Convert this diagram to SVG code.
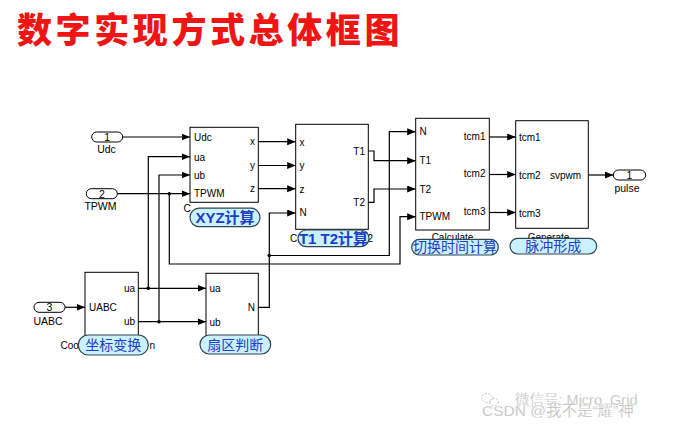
<svg xmlns="http://www.w3.org/2000/svg" width="685" height="430" viewBox="0 0 685 430">
<defs>
<marker id="arr" markerUnits="userSpaceOnUse" markerWidth="9" markerHeight="8" refX="8.5" refY="3.5" orient="auto">
<path d="M0,0 L8.5,3.5 L0,7 z" fill="#000"/>
</marker>
<style>
.blk{fill:#fff;stroke:#000;stroke-width:1}
.port{fill:#fff;stroke:#000;stroke-width:1}
.w{fill:none;stroke:#000;stroke-width:1.2}
.a{marker-end:url(#arr)}
.t{font-family:"Liberation Sans",Arial,sans-serif;font-size:10px;fill:#000}
.pl{font-family:"Liberation Sans",Arial,sans-serif;font-size:10.5px;fill:#000;text-anchor:middle}
.r{text-anchor:end}
.m{text-anchor:middle}
.bub{fill:#c9f1ff;stroke:#2e4650;stroke-width:1.2}
.bt{font-family:"Liberation Sans","Noto Sans CJK SC",sans-serif;font-size:14px;fill:#1f3cc4;text-anchor:middle}
.bb{font-weight:bold;font-size:15px}
.dot{fill:#000}
.wm{font-family:"Liberation Sans","Noto Sans CJK SC",sans-serif;fill:#b4b4b4;stroke:#fff;stroke-width:0.3}
</style>
</defs>
<rect width="685" height="430" fill="#fff"/>

<text x="17" y="43" font-family="'Noto Sans CJK SC',sans-serif" font-weight="900" font-size="35" letter-spacing="3.6" fill="#f01414">数字实现方式总体框图</text>

<g id="connectors">
<path class="w a" d="M122.7,137 H190"/>
<path class="w a" d="M117.3,193.7 H190"/>
<path class="w a" d="M169.3,193.7 V264 H400 V216.7 H415.7"/>
<path class="w a" d="M138.3,288.3 H206"/>
<path class="w a" d="M148.3,288.3 V156.7 H190"/>
<path class="w a" d="M138.3,321.7 H206"/>
<path class="w a" d="M159,321.7 V175 H190"/>
<path class="w a" d="M65,307.3 H85"/>
<path class="w a" d="M258.3,141.7 H295.7"/>
<path class="w a" d="M258.3,165.5 H295.7"/>
<path class="w a" d="M258.3,188.7 H295.7"/>
<path class="w a" d="M258.3,307.3 H269.3 V213 H295.7"/>
<path class="w a" d="M269.3,255.5 H389.3 V131.7 H415.7"/>
<path class="w a" d="M368.3,151 H374 V160.7 H415.7"/>
<path class="w a" d="M368.3,202.3 H374 V189 H415.7"/>
<path class="w a" d="M489.3,137 H515.7"/>
<path class="w a" d="M489.3,174.5 H515.7"/>
<path class="w a" d="M489.3,212.5 H515.7"/>
<path class="w a" d="M588.3,175 H613.3"/>
<circle class="dot" cx="169.3" cy="193.7" r="1.8"/>
<circle class="dot" cx="148.3" cy="288.3" r="1.8"/>
<circle class="dot" cx="159" cy="321.7" r="1.8"/>
<circle class="dot" cx="269.3" cy="255.5" r="1.8"/>
</g>

<g id="in1">
<rect class="port" x="91.7" y="132" width="31" height="10" rx="5"/>
<text class="pl" x="107.2" y="140.8">1</text>
<text class="pl" x="106.5" y="153">Udc</text>
</g>
<g id="in2">
<rect class="port" x="86.3" y="188.7" width="31" height="10" rx="5"/>
<text class="pl" x="101.8" y="197.5">2</text>
<text class="pl" x="100.5" y="210">TPWM</text>
</g>
<g id="in3">
<rect class="port" x="34" y="302.3" width="31" height="10" rx="5"/>
<text class="pl" x="49.5" y="311">3</text>
<text class="pl" x="48" y="324.5">UABC</text>
</g>
<g id="out1">
<rect class="port" x="613.3" y="170" width="32.4" height="10" rx="5"/>
<text class="pl" x="629.5" y="178.8">1</text>
<text class="pl" x="627" y="192">pulse</text>
</g>

<g id="xyz">
<rect class="blk" x="190" y="127.3" width="68.3" height="75"/>
<text class="t" x="194" y="140.5">Udc</text>
<text class="t" x="194" y="160.5">ua</text>
<text class="t" x="194" y="178.7">ub</text>
<text class="t" x="194" y="197.4">TPWM</text>
<text class="t r" x="255" y="145.4">x</text>
<text class="t r" x="255" y="169.3">y</text>
<text class="t r" x="255" y="192">z</text>
<text class="t" x="183.5" y="212">C</text>
<rect class="bub" x="190" y="208.2" width="70" height="18.5" rx="9.2"/>
<text class="bt bb" x="225" y="222.6">XYZ计算</text>
</g>

<g id="t1t2">
<rect class="blk" x="295.7" y="124.3" width="72.6" height="105"/>
<text class="t" x="299.5" y="146">x</text>
<text class="t" x="299.5" y="168.7">y</text>
<text class="t" x="299.5" y="192.7">z</text>
<text class="t" x="299.5" y="216.4">N</text>
<text class="t r" x="365" y="154.7">T1</text>
<text class="t r" x="365" y="206">T2</text>
<text class="t" x="290" y="242">C</text>
<text class="t" x="367.5" y="242">2</text>
<rect class="bub" x="298" y="230" width="71" height="16.7" rx="8.3"/>
<text class="bt bb" x="333.5" y="243.5">T1 T2计算</text>
</g>

<g id="calc">
<rect class="blk" x="415.7" y="118.3" width="73.6" height="111.7"/>
<text class="t" x="419.5" y="135.4">N</text>
<text class="t" x="419.5" y="164.4">T1</text>
<text class="t" x="419.5" y="192.7">T2</text>
<text class="t" x="419.5" y="220.4">TPWM</text>
<text class="t r" x="485.5" y="140.4">tcm1</text>
<text class="t r" x="485.5" y="177">tcm2</text>
<text class="t r" x="485.5" y="215.4">tcm3</text>
<text class="t m" x="452.5" y="241">Calculate</text>
<rect class="bub" x="411.7" y="239.3" width="86.6" height="15.7" rx="7.8"/>
<text class="bt" x="455" y="252.3">切换时间计算</text>
</g>

<g id="gen">
<rect class="blk" x="515.7" y="120.7" width="72.6" height="107.6"/>
<text class="t" x="519" y="140.7">tcm1</text>
<text class="t" x="519" y="178.5">tcm2</text>
<text class="t" x="519" y="216.7">tcm3</text>
<text class="t r" x="581" y="178.5">svpwm</text>
<text class="t m" x="548.5" y="240.5">Generate</text>
<rect class="bub" x="510" y="238.3" width="86.7" height="15.7" rx="7.8"/>
<text class="bt" x="553.3" y="251.3">脉冲形成</text>
</g>

<g id="coord">
<rect class="blk" x="85" y="272.3" width="53.3" height="66"/>
<text class="t" x="89" y="311">UABC</text>
<text class="t r" x="135" y="292">ua</text>
<text class="t r" x="135" y="325.4">ub</text>
<text class="t" x="60.5" y="349">Coo</text>
<text class="t" x="149.5" y="349">n</text>
<rect class="bub" x="78.3" y="335" width="70" height="20" rx="10"/>
<text class="bt" x="113.3" y="350">坐标变换</text>
</g>

<g id="sector">
<rect class="blk" x="206" y="273.3" width="52.3" height="65"/>
<text class="t" x="209.5" y="292">ua</text>
<text class="t" x="209.5" y="326.4">ub</text>
<text class="t r" x="255" y="311">N</text>
<rect class="bub" x="200" y="335" width="70.7" height="19" rx="9.5"/>
<text class="bt" x="235.3" y="349.7">扇区判断</text>
</g>

<g id="watermark">
<ellipse cx="487" cy="398" rx="5.5" ry="4.5" fill="none" stroke="#c8c8c8" stroke-width="1" stroke-dasharray="2,1.5"/>
<ellipse cx="494" cy="402" rx="4.5" ry="3.8" fill="none" stroke="#c8c8c8" stroke-width="1" stroke-dasharray="2,1.5"/>
<text class="wm" x="515" y="405" font-size="14.5">微信号: Micro_Grid</text>
<text class="wm" x="482" y="416" font-size="15.5">CSDN @我不是“耀”神</text>
</g>
</svg>
